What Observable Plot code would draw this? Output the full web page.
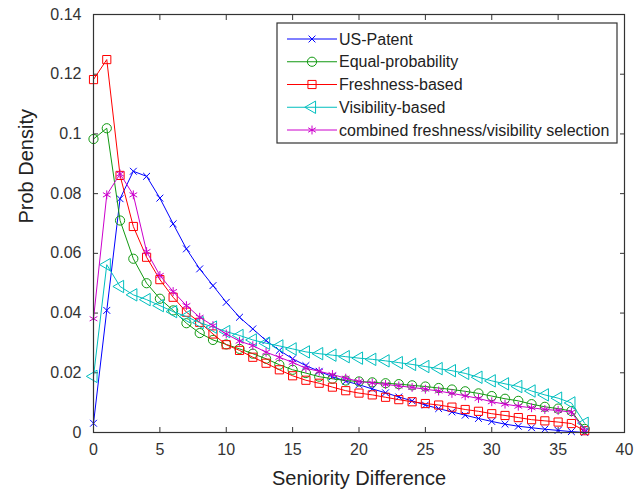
<!DOCTYPE html>
<html>
<head>
<meta charset="utf-8">
<script src="https://cdn.jsdelivr.net/npm/d3@7"></script>
<script src="https://cdn.jsdelivr.net/npm/@observablehq/plot@0.6"></script>
<style>
  html, body { margin: 0; padding: 0; background: #fff; }
  #chart svg { display: block; }
</style>
</head>
<body>
<div id="chart"></div>
<script>
// ---- data ----
const seniority = [0,1,2,3,4,5,6,7,8,9,10,11,12,13,14,15,16,17,18,19,20,21,22,23,24,25,26,27,28,29,30,31,32,33,34,35,36,37];

const usPatent = [0.0031,0.0409,0.0783,0.0875,0.0858,0.0785,0.0699,0.0615,0.0548,0.0492,0.0436,0.0386,0.0347,0.0308,0.0275,0.0247,0.0224,0.0205,0.0187,0.0172,0.0160,0.0146,0.0133,0.0119,0.0106,0.0092,0.0080,0.0069,0.0058,0.0047,0.0037,0.0028,0.0021,0.0016,0.0011,0.0007,0.0003,0.0000];
const equalProb = [0.0983,0.1019,0.0710,0.0582,0.0500,0.0448,0.0409,0.0366,0.0333,0.0310,0.0295,0.0280,0.0264,0.0247,0.0227,0.0210,0.0199,0.0187,0.0180,0.0174,0.0171,0.0168,0.0165,0.0162,0.0158,0.0154,0.0149,0.0144,0.0138,0.0131,0.0122,0.0113,0.0106,0.0095,0.0086,0.0080,0.0072,0.0012];
const freshness = [0.1182,0.1249,0.0861,0.0690,0.0587,0.0512,0.0453,0.0403,0.0369,0.0330,0.0294,0.0275,0.0252,0.0232,0.0210,0.0190,0.0175,0.0165,0.0152,0.0140,0.0132,0.0126,0.0118,0.0110,0.0103,0.0097,0.0092,0.0085,0.0077,0.0071,0.0063,0.0057,0.0050,0.0043,0.0039,0.0035,0.0030,0.0006];
const visibility = [0.0188,0.0562,0.0489,0.0461,0.0445,0.0425,0.0405,0.0388,0.0368,0.0353,0.0338,0.0325,0.0310,0.0299,0.0290,0.0280,0.0270,0.0264,0.0259,0.0254,0.0249,0.0245,0.0240,0.0234,0.0228,0.0221,0.0214,0.0207,0.0198,0.0185,0.0173,0.0163,0.0154,0.0139,0.0126,0.0115,0.0099,0.0031];
const combined = [0.0381,0.0796,0.0866,0.0796,0.0606,0.0526,0.0472,0.0425,0.0386,0.0358,0.0330,0.0306,0.0291,0.0269,0.0252,0.0235,0.0215,0.0205,0.0194,0.0182,0.0171,0.0166,0.0161,0.0156,0.0151,0.0145,0.0139,0.0131,0.0123,0.0114,0.0103,0.0095,0.0088,0.0083,0.0077,0.0074,0.0068,0.0007];

const seriesNames = ["US-Patent","Equal-probability","Freshness-based","Visibility-based","combined freshness/visibility selection"];
const seriesValues = [usPatent, equalProb, freshness, visibility, combined];
const seriesColors = ["#0000ff","#119911","#ff0000","#00bfbf","#cc00cc"];
const seriesSymbols = ["times","circle","square","triangle","asterisk"];
const seriesRotate = [0,0,0,-90,0];
const seriesRadius = [3.2,4.6,4.6,4.6,4.2];

const xTicks = [0,5,10,15,20,25,30,35,40];
const yTicks = [0,0.02,0.04,0.06,0.08,0.1,0.12,0.14];
const xTitle = "Seniority Difference";
const yTitle = "Prob Density";

// ---- build long table ----
const rows = [];
seriesNames.forEach((name, i) => {
  seriesValues[i].forEach((v, j) => rows.push({series: name, idx: i, x: seniority[j], y: v}));
});

const font = "'Liberation Sans', Arial, Helvetica, sans-serif";
const fmtY = d => d === 0 ? "0" : String(+d.toFixed(2));

const seriesMarks = [];
seriesNames.forEach((name, i) => {
  const data = rows.filter(r => r.idx === i);
  seriesMarks.push(Plot.line(data, {x: "x", y: "y", stroke: seriesColors[i], strokeWidth: 1}));
  seriesMarks.push(Plot.dot(data, {x: "x", y: "y", stroke: seriesColors[i], fill: "none", strokeWidth: 1,
    symbol: seriesSymbols[i], r: seriesRadius[i], rotate: seriesRotate[i]}));
});

const chart = Plot.plot({
  width: 644,
  height: 494,
  marginLeft: 93,
  marginRight: 20,
  marginTop: 14,
  marginBottom: 62,
  style: {fontFamily: font, fontSize: "16px", color: "#333", background: "#fff", overflow: "visible"},
  x: {domain: [0, 40]},
  y: {domain: [0, 0.14]},
  marks: [
    // tick labels
    Plot.axisX(xTicks, {anchor: "bottom", tickSize: 0, tickPadding: 11, label: null, fontSize: 16}),
    Plot.axisY(yTicks, {anchor: "left", tickSize: 0, tickPadding: 12, label: null, tickFormat: fmtY, fontSize: 16}),
    // inward ticks on all four sides
    Plot.axisX(xTicks, {anchor: "bottom", tickSize: -5, tickFormat: () => "", label: null, stroke: "#333"}),
    Plot.axisX(xTicks, {anchor: "top", tickSize: -5, tickFormat: () => "", label: null, stroke: "#333"}),
    Plot.axisY(yTicks, {anchor: "left", tickSize: -5, tickFormat: () => "", label: null, stroke: "#333"}),
    Plot.axisY(yTicks, {anchor: "right", tickSize: -5, tickFormat: () => "", label: null, stroke: "#333"}),
    // axis titles
    Plot.text([xTitle], {frameAnchor: "bottom", dy: 52, text: d => d, fontSize: 20, fill: "#222"}),
    Plot.text([yTitle], {frameAnchor: "left", dx: -67, text: d => d, rotate: -90, fontSize: 20, fill: "#222"}),
    ...seriesMarks,
    Plot.frame({stroke: "#333", strokeWidth: 1.2})
  ]
});

document.getElementById("chart").appendChild(chart);

// ---- legend (drawn into the same SVG) ----
const svg = d3.select(chart);
const lg = svg.append("g").attr("font-family", font).attr("font-size", 16).attr("text-anchor", "start");
const boxX = 277, boxY = 23, boxW = 340, boxH = 120;
lg.append("rect").attr("x", boxX).attr("y", boxY).attr("width", boxW).attr("height", boxH)
  .attr("fill", "#fff").attr("stroke", "#333").attr("stroke-width", 1.2);
const symMap = {times: d3.symbolTimes, circle: d3.symbolCircle, square: d3.symbolSquare, triangle: d3.symbolTriangle, asterisk: d3.symbolAsterisk};
seriesNames.forEach((name, i) => {
  const cy = boxY + 16 + i * 22.75;
  const row = lg.append("g");
  row.append("line").attr("x1", boxX + 10).attr("x2", boxX + 60).attr("y1", cy).attr("y2", cy)
    .attr("stroke", seriesColors[i]).attr("stroke-width", 1);
  row.append("path")
    .attr("d", d3.symbol().type(symMap[seriesSymbols[i]]).size(Math.PI * seriesRadius[i] * seriesRadius[i])())
    .attr("transform", `translate(${boxX + 35},${cy}) rotate(${seriesRotate[i]})`)
    .attr("fill", "none").attr("stroke", seriesColors[i]).attr("stroke-width", 1);
  row.append("text").attr("x", boxX + 62).attr("y", cy).attr("dy", "0.35em")
    .attr("text-anchor", "start").attr("fill", "#222").text(name);
});
</script>
</body>
</html>
